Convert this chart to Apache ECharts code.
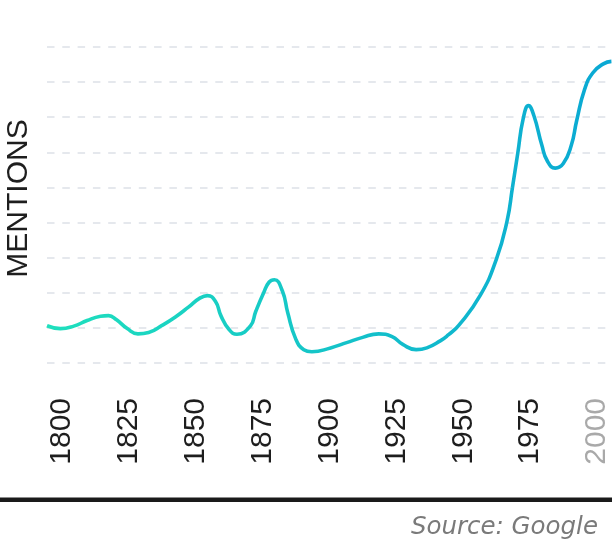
<!DOCTYPE html>
<html>
<head>
<meta charset="utf-8">
<script src="https://cdn.jsdelivr.net/npm/echarts@6/dist/echarts.min.js"></script>
<style>
html,body{margin:0;padding:0;background:#ffffff;}
#chart{width:612px;height:544px;}
</style>
</head>
<body>
<div id="chart"></div>
<script>
// ---- data ----
const years = [1800,1805,1810,1815,1820,1823,1826,1830,1834,1838,1843,1848,1853,1857,1860,1863,1865,1868,1871,1876,1878,1881,1883,1885,1888,1890,1893,1896,1899,1906,1912,1918,1924,1929,1933,1938,1942,1947,1950,1954,1962,1968,1972,1974,1976,1978,1980,1982,1985,1987,1990,1993,1996,1998,2001,2004,2008,2011];
const mentions = [10.6,9.8,10.5,12.1,13.3,13.5,12.3,9.8,8.3,8.7,10.7,13.1,16.0,18.4,19.2,17.5,13.5,9.6,8.2,10.5,14.6,20.0,23.0,23.7,20.5,14.3,6.8,3.8,3.2,4.3,5.8,7.3,8.3,7.5,5.3,3.8,4.3,6.3,8.0,10.8,19.3,29.6,40.5,50.0,59.8,69.5,73.3,70.5,62.0,57.6,55.5,56.8,62.0,69.0,78.0,82.6,85.2,85.9];
const tickYears = [1800,1825,1850,1875,1900,1925,1950,1975,2000];
const fadedYear = 2000;
const yAxisTitle = 'MENTIONS';
const sourceText = 'Source: Google';

const chart = echarts.init(document.getElementById('chart'), null, {renderer: 'canvas'});

const seriesData = years.map((y, i) => [y, mentions[i]]);

const option = {
  animation: false,
  backgroundColor: '#ffffff',
  grid: {left: 47, right: 0, top: 47, bottom: 181, containLabel: false},
  xAxis: {
    type: 'value',
    min: 1800,
    max: 2011,
    axisLine: {show: false},
    axisTick: {show: false},
    splitLine: {show: false},
    axisLabel: {
      customValues: tickYears,
      rotate: 90,
      margin: 35,
      verticalAlign: 'top',
      fontSize: 30,
      fontFamily: 'Liberation Sans',
      color: (v) => (Number(v) === fadedYear ? '#a9a9a9' : '#1e1e1e'),
      formatter: (v) => String(v)
    }
  },
  yAxis: {
    type: 'value',
    min: 0,
    max: 90,
    interval: 10,
    axisLine: {show: false},
    axisTick: {show: false},
    axisLabel: {show: false},
    splitLine: {show: true, lineStyle: {color: '#e5e8ed', width: 2, type: [7.5, 7.8]}}
  },
  series: [{
    type: 'line',
    data: seriesData,
    smooth: 0.5,
    showSymbol: false,
    symbol: 'none',
    lineStyle: {
      width: 3.6,
      color: new echarts.graphic.LinearGradient(0, 0, 1, 0, [
        {offset: 0, color: '#1fe0bd'},
        {offset: 1, color: '#0aa8d4'}
      ])
    }
  }],
  graphic: [
    {
      type: 'text',
      x: 19, y: 198.5,
      rotation: Math.PI / 2,
      style: {
        text: yAxisTitle,
        fontSize: 30,
        fontFamily: 'Liberation Sans',
        fill: '#1e1e1e',
        align: 'center',
        verticalAlign: 'middle'
      }
    },
    {
      type: 'rect',
      shape: {x: 0, y: 497.5, width: 612, height: 4.5},
      style: {fill: '#1a1a1a'}
    },
    {
      type: 'text',
      x: 598, y: 528,
      style: {
        text: sourceText,
        fontSize: 24.5,
        fontStyle: 'italic',
        fontFamily: 'DejaVu Sans',
        fill: '#7a7a7a',
        align: 'right',
        verticalAlign: 'middle'
      }
    }
  ]
};

chart.setOption(option);
</script>
</body>
</html>
